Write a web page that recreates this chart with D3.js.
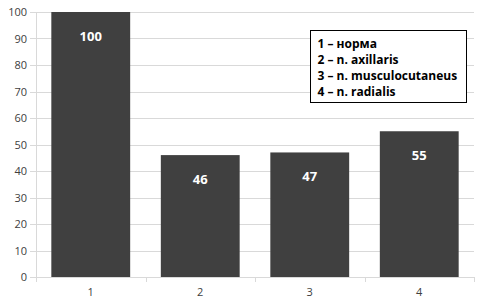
<!DOCTYPE html>
<html>
<head>
<meta charset="utf-8">
<script src="https://cdn.jsdelivr.net/npm/d3@7"></script>
<style>
  body { margin: 0; background: #fff; }
  text { font-family: "Open Sans", "DejaVu Sans", sans-serif; }
</style>
</head>
<body>
<div id="container"></div>
<script>
/* DATA */
const categories = ["1", "2", "3", "4"];
const values = [100, 46, 47, 55];
const yTicks = [0, 10, 20, 30, 40, 50, 60, 70, 80, 90, 100];
const legendLines = ["1 – норма", "2 – n. axillaris", "3 – n. musculocutaneus", "4 – n. radialis"];

const W = 485, H = 305;
const margin = {top: 12, right: 11, bottom: 28, left: 36};
const width = W - margin.left - margin.right,
      height = H - margin.top - margin.bottom;

const svg = d3.select("#container")
  .append("svg")
  .attr("width", W)
  .attr("height", H);

const g = svg.append("g")
  .attr("transform", "translate(" + margin.left + "," + margin.top + ")");

/* SCALES */
const xScale = d3.scaleBand()
  .domain(categories)
  .range([0, width])
  .paddingInner(0.28)
  .paddingOuter(0.14);

const yScale = d3.scaleLinear()
  .domain([0, 100])
  .range([height, 0]);

/* gridlines */
g.append("g")
  .selectAll("line")
  .data(yTicks)
  .join("line")
  .attr("x1", -6)
  .attr("x2", width)
  .attr("y1", d => Math.round(yScale(d)) + 0.5)
  .attr("y2", d => Math.round(yScale(d)) + 0.5)
  .attr("stroke", "#d9d9d9");

/* y axis */
const yAxis = g.append("g")
  .call(d3.axisLeft(yScale).tickValues(yTicks).tickSize(0).tickPadding(9));
yAxis.select(".domain").attr("stroke", "#d9d9d9");
yAxis.selectAll("text").attr("font-size", 11).attr("fill", "#404040");

/* x axis: ticks at category boundaries */
const step = xScale.step();
const xAxis = g.append("g").attr("transform", "translate(0," + height + ")");
xAxis.append("line")
  .attr("x1", 0).attr("x2", width)
  .attr("y1", 0.5).attr("y2", 0.5)
  .attr("stroke", "#d9d9d9");
xAxis.selectAll(".tk")
  .data(d3.range(categories.length + 1))
  .join("line")
  .attr("class", "tk")
  .attr("x1", i => Math.round(i * width / categories.length) + 0.5)
  .attr("x2", i => Math.round(i * width / categories.length) + 0.5)
  .attr("y1", 0).attr("y2", 5)
  .attr("stroke", "#d9d9d9");
xAxis.selectAll(".lbl")
  .data(categories)
  .join("text")
  .attr("class", "lbl")
  .attr("x", d => xScale(d) + xScale.bandwidth() / 2)
  .attr("y", 19)
  .attr("text-anchor", "middle")
  .attr("font-size", 11)
  .attr("fill", "#404040")
  .text(d => d);

/* bars */
g.selectAll("rect.bar")
  .data(values)
  .join("rect")
  .attr("class", "bar")
  .attr("x", (d, i) => xScale(categories[i]))
  .attr("y", d => yScale(d))
  .attr("width", xScale.bandwidth())
  .attr("height", d => height - yScale(d))
  .attr("fill", "#404040");

/* value labels */
g.selectAll("text.val")
  .data(values)
  .join("text")
  .attr("class", "val")
  .attr("x", (d, i) => xScale(categories[i]) + xScale.bandwidth() / 2)
  .attr("y", d => yScale(d) + 29)
  .attr("text-anchor", "middle")
  .attr("font-size", 13)
  .attr("font-weight", "bold")
  .attr("fill", "#fff")
  .text(d => d);

/* legend */
const legend = svg.append("g").attr("transform", "translate(310.5,30.5)");
legend.append("rect")
  .attr("width", 156)
  .attr("height", 72)
  .attr("fill", "#fff")
  .attr("stroke", "#000");
legend.selectAll("text")
  .data(legendLines)
  .join("text")
  .attr("x", 7)
  .attr("y", (d, i) => 17 + i * 16.3)
  .attr("font-size", 12)
  .attr("font-weight", "bold")
  .attr("fill", "#000")
  .text(d => d);
</script>
</body>
</html>
